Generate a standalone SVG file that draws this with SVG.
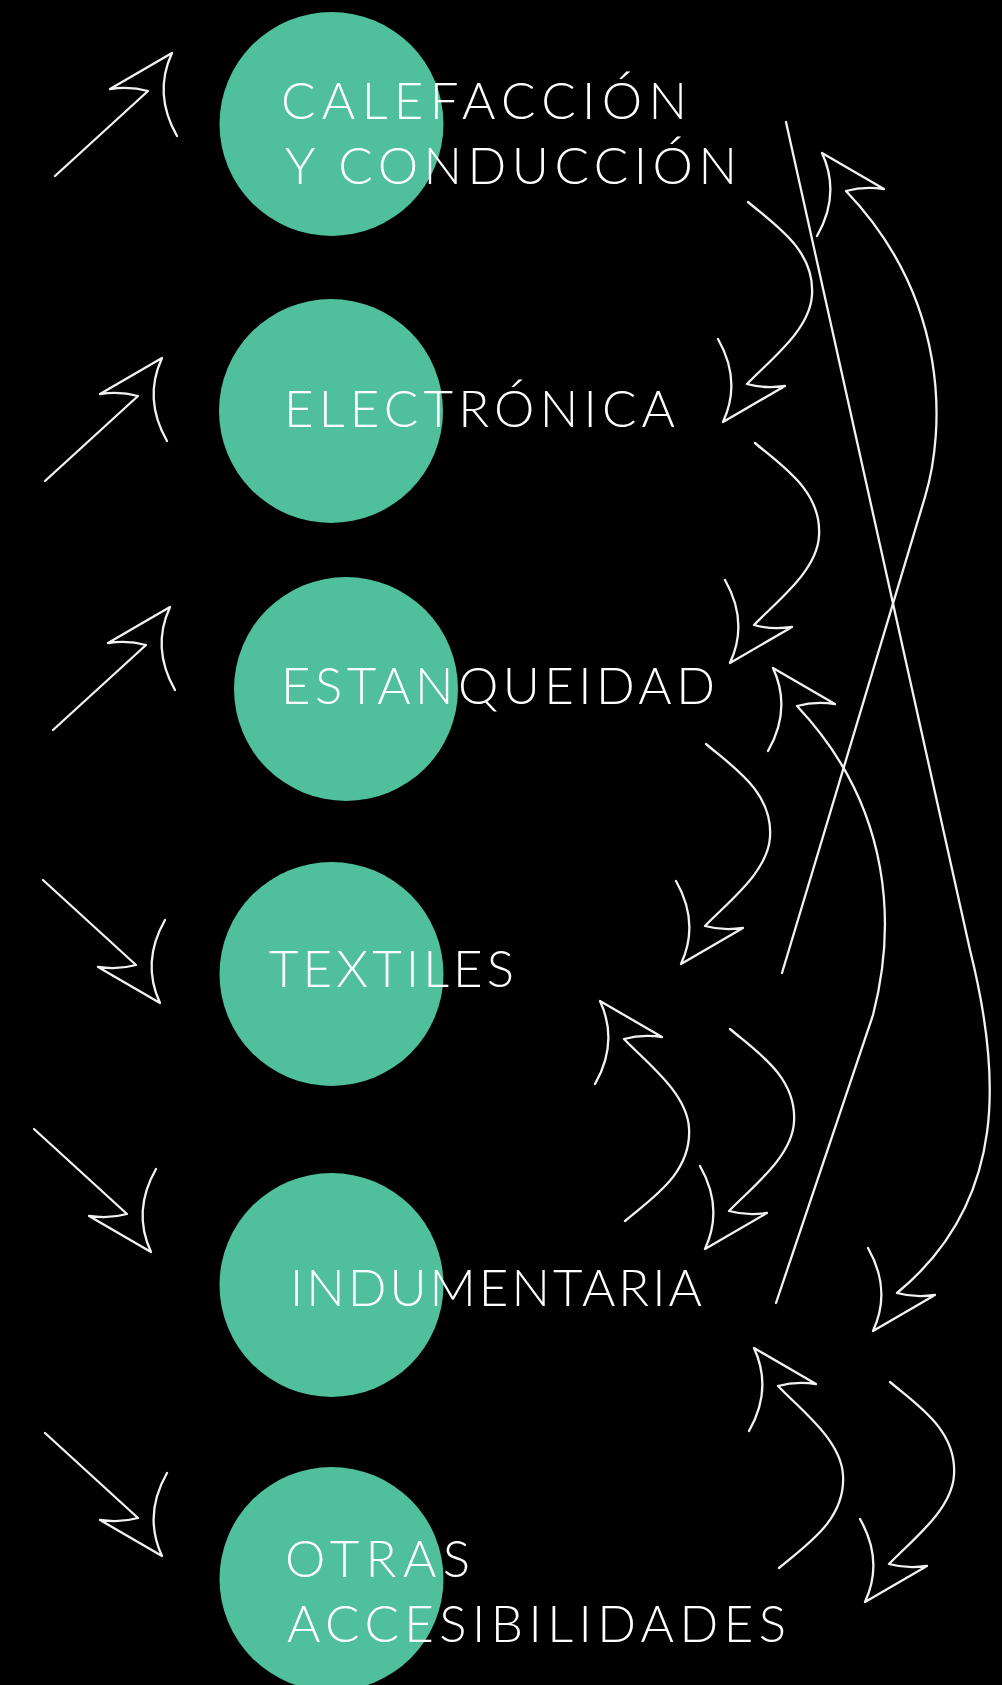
<svg xmlns="http://www.w3.org/2000/svg" xmlns:xlink="http://www.w3.org/1999/xlink" width="1002" height="1685" viewBox="0 0 1002 1685">
<style>
.n{fill:#50BF9B}
.t{fill:#ffffff;font-family:Lato,"Open Sans","Liberation Sans",sans-serif;font-weight:300;font-size:51px}
.c{fill:none;stroke:#f2f2f2;stroke-width:2.3;stroke-linecap:round;stroke-linejoin:round}
</style>
<defs>
<path id="ua" d="M-117,123 L-24,38 Q-42,33 -62,36 L0,0 Q-19,41 5,83"/>
<path id="sa" d="M25,-220 C52,-197 92,-172 89,-127 C87,-92 47,-62 24,-38 Q42,-33 62,-36 L0,0 Q19,-41 -5,-83"/>
</defs>
<rect width="1002" height="1685" fill="#000"/>
<g id="n1"><circle class="n" cx="331.5" cy="124" r="112"/><text class="t" x="281" y="119" textLength="406" lengthAdjust="spacing">CALEFACCIÓN</text><text class="t" x="285" y="184" textLength="452" lengthAdjust="spacing">Y CONDUCCIÓN</text></g>
<g id="n2"><circle class="n" cx="331" cy="411" r="112"/><text class="t" x="284" y="427" textLength="391" lengthAdjust="spacing">ELECTRÓNICA</text></g>
<g id="n3"><circle class="n" cx="346" cy="689" r="112"/><text class="t" x="281" y="704" textLength="434" lengthAdjust="spacing">ESTANQUEIDAD</text></g>
<g id="n4"><circle class="n" cx="331.5" cy="974" r="112"/><text class="t" x="269" y="987" textLength="245" lengthAdjust="spacing">TEXTILES</text></g>
<g id="n5"><circle class="n" cx="331.5" cy="1285" r="112"/><text class="t" x="290" y="1306" textLength="412" lengthAdjust="spacing">INDUMENTARIA</text></g>
<g id="n6"><circle class="n" cx="331.5" cy="1579" r="112"/><text class="t" x="285" y="1577" textLength="185" lengthAdjust="spacing">OTRAS</text><text class="t" x="287" y="1642" textLength="499" lengthAdjust="spacing">ACCESIBILIDADES</text></g>
<g id="connectors" class="c">
<use xlink:href="#ua" transform="translate(172,53)"/>
<use xlink:href="#ua" transform="translate(162,358)"/>
<use xlink:href="#ua" transform="translate(170,607)"/>
<use xlink:href="#ua" transform="translate(160,1003) scale(1,-1)"/>
<use xlink:href="#ua" transform="translate(151,1252) scale(1,-1)"/>
<use xlink:href="#ua" transform="translate(162,1556) scale(1,-1)"/>
<use xlink:href="#sa" transform="translate(723,422)"/>
<use xlink:href="#sa" transform="translate(730,663)"/>
<use xlink:href="#sa" transform="translate(681,964)"/>
<use xlink:href="#sa" transform="translate(705,1249)"/>
<use xlink:href="#sa" transform="translate(865,1602)"/>
<use xlink:href="#sa" transform="translate(600,1001) scale(1,-1)"/>
<use xlink:href="#sa" transform="translate(754,1348) scale(1,-1)"/>
<path d="M782,973 L925,497 C945,430 950,300 846,191 Q864,186 884,189 L822,153 Q841,194 817,236"/>
<path d="M786,122 L970,950 C1000,1070 1010,1200 897,1293 Q915,1298 935,1295 L873,1331 Q892,1290 868,1248"/>
<path d="M776,1303 L873,1015 C895,930 895,810 797,706 Q815,701 835,704 L773,668 Q792,709 768,751"/>
</g>
</svg>
